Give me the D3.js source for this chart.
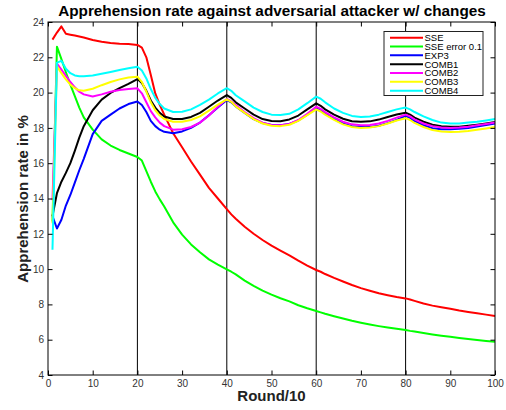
<!DOCTYPE html>
<html><head><meta charset="utf-8">
<script src="https://cdn.jsdelivr.net/npm/d3@7"></script>
<style>
body{margin:0;background:#fff;}
svg{display:block;font-family:"Liberation Sans",Arial,Helvetica,sans-serif;}
</style></head>
<body>
<svg id="chart" width="506" height="410"></svg>
<script>
// ---- data ----
const X = [1,2,3,4,5,6,7,8,10,12,14,16,18,20,
 21,22,23,24,25,26,28,30,32,34,36,38,40,
 41,42,44,46,48,50,52,54,56,58,60,
 61,62,64,66,68,70,72,74,76,78,80,
 81,82,84,86,88,90,92,94,96,98,100];

const sse = [23.0,23.4,23.75,23.33,23.28,23.23,23.18,23.12,22.98,22.88,22.81,22.77,22.75,22.7,
 22.55,22.0,21.0,19.95,19.3,18.75,17.7,16.9,16.1,15.35,14.6,14.0,13.4,
 13.1,12.85,12.4,12.0,11.65,11.33,11.05,10.78,10.48,10.2,9.95,
 9.85,9.72,9.5,9.3,9.1,8.92,8.77,8.63,8.52,8.42,8.34,
 8.28,8.2,8.05,7.93,7.84,7.75,7.65,7.57,7.5,7.42,7.34];

const sseErr = [12.7,22.6,21.9,21.15,20.45,19.8,19.15,18.6,17.9,17.35,17.0,16.75,16.55,16.35,
 16.15,15.55,14.95,14.4,13.95,13.55,12.65,11.95,11.4,10.95,10.55,10.25,9.99,
 9.85,9.7,9.35,9.05,8.78,8.55,8.35,8.17,7.95,7.78,7.63,
 7.55,7.47,7.33,7.2,7.07,6.96,6.86,6.77,6.69,6.62,6.55,
 6.5,6.46,6.38,6.3,6.23,6.17,6.1,6.04,5.98,5.93,5.88];

const exp3 = [13.0,12.3,12.8,13.6,14.2,14.9,15.6,16.25,17.65,18.4,18.75,19.1,19.35,19.5,
 19.3,18.9,18.4,18.1,17.9,17.78,17.7,17.8,18.0,18.3,18.72,19.15,19.58,
 19.45,19.22,18.85,18.5,18.28,18.17,18.15,18.22,18.42,18.75,19.15,
 19.02,18.82,18.5,18.25,18.1,18.05,18.05,18.12,18.27,18.45,18.68,
 18.57,18.4,18.15,17.98,17.92,17.92,17.95,18.0,18.08,18.17,18.25];

const comb1 = [13.0,14.3,14.95,15.45,16.0,16.7,17.45,18.1,19.0,19.6,19.98,20.25,20.5,20.77,
 20.55,20.1,19.55,19.15,18.85,18.65,18.5,18.5,18.62,18.85,19.2,19.55,19.86,
 19.7,19.45,19.1,18.75,18.5,18.39,18.38,18.48,18.7,19.05,19.39,
 19.25,19.05,18.75,18.52,18.38,18.35,18.37,18.47,18.62,18.76,18.86,
 18.75,18.58,18.35,18.18,18.09,18.06,18.07,18.12,18.18,18.25,18.33];

const comb2 = [13.9,21.65,21.3,20.95,20.6,20.3,20.05,19.9,19.78,19.9,20.05,20.15,20.2,20.24,
 19.96,19.45,18.95,18.6,18.3,18.1,17.9,17.92,18.05,18.3,18.7,19.2,19.64,
 19.5,19.3,18.9,18.55,18.3,18.17,18.15,18.22,18.45,18.8,19.2,
 19.08,18.9,18.6,18.35,18.2,18.15,18.17,18.25,18.4,18.58,18.75,
 18.65,18.48,18.25,18.1,18.02,18.0,18.02,18.07,18.15,18.22,18.3];

const comb3 = [12.6,21.5,21.1,20.75,20.45,20.25,20.13,20.1,20.22,20.42,20.6,20.75,20.85,20.9,
 20.6,20.05,19.45,19.0,18.7,18.5,18.35,18.35,18.45,18.65,18.98,19.32,19.62,
 19.48,19.22,18.85,18.5,18.25,18.12,18.1,18.18,18.4,18.72,19.05,
 18.93,18.75,18.45,18.2,18.05,18.0,18.02,18.1,18.25,18.42,18.55,
 18.45,18.28,18.05,17.88,17.8,17.77,17.78,17.83,17.9,17.97,18.05];

const comb4 = [11.1,21.7,21.8,21.35,21.1,20.97,20.93,20.93,20.97,21.07,21.17,21.28,21.38,21.47,
 21.25,20.8,20.2,19.7,19.35,19.1,18.9,18.92,19.05,19.3,19.6,19.95,20.25,
 20.1,19.85,19.5,19.15,18.9,18.75,18.73,18.8,19.05,19.4,19.77,
 19.65,19.45,19.1,18.85,18.68,18.62,18.65,18.75,18.9,19.05,19.15,
 19.05,18.9,18.65,18.45,18.3,18.25,18.25,18.3,18.35,18.42,18.5];

const seriesNames = ["SSE","SSE error 0.1","EXP3","COMB1","COMB2","COMB3","COMB4"];
const seriesColors = ["#ff0000","#00ff00","#0000ff","#000000","#ff00ff","#ffff00","#00ffff"];
const seriesValues = [sse, sseErr, exp3, comb1, comb2, comb3, comb4];
const xTicks = [0,10,20,30,40,50,60,70,80,90,100];
const yTicks = [4,6,8,10,12,14,16,18,20,22,24];
const changePoints = [20,40,60,80];

// ---- layout ----
const svg = d3.select("#chart");
const L = 48, R = 495, T = 22, B = 375;
const x = d3.scaleLinear().domain([0,100]).range([L,R]);
const y = d3.scaleLinear().domain([4,24]).range([B,T]);

// change-point vertical lines
svg.append("g").selectAll("line").data(changePoints).join("line")
  .attr("x1", d=>x(d)).attr("x2", d=>x(d)).attr("y1", T).attr("y2", B)
  .attr("stroke","#000").attr("stroke-width",1);

// series
const line = d3.line().x((d,i)=>x(X[i])).y(d=>y(d)).curve(d3.curveLinear);
svg.append("g").selectAll("path").data(seriesValues).join("path")
  .attr("d", d=>line(d)).attr("fill","none")
  .attr("stroke",(d,i)=>seriesColors[i]).attr("stroke-width",2)
  .attr("stroke-linejoin","round");

// axes
const tk = 4.5;
function styleAxis(g){
  g.select(".domain").remove();
  g.selectAll(".tick line").attr("stroke","#000");
  g.selectAll(".tick text").attr("fill","#333").style("font-size","10px")
   .style("font-family",'"Liberation Sans",Arial,Helvetica,sans-serif');
}
svg.append("g").attr("transform",`translate(0,${B})`)
  .call(d3.axisBottom(x).tickValues(xTicks).tickSizeInner(-tk).tickSizeOuter(0).tickPadding(5))
  .call(styleAxis);
svg.append("g").attr("transform",`translate(0,${T})`)
  .call(d3.axisTop(x).tickValues(xTicks).tickSizeInner(-tk).tickSizeOuter(0).tickFormat(""))
  .call(styleAxis);
svg.append("g").attr("transform",`translate(${L},0)`)
  .call(d3.axisLeft(y).tickValues(yTicks).tickSizeInner(-tk).tickSizeOuter(0).tickPadding(4))
  .call(styleAxis);
svg.append("g").attr("transform",`translate(${R},0)`)
  .call(d3.axisRight(y).tickValues(yTicks).tickSizeInner(-tk).tickSizeOuter(0).tickFormat(""))
  .call(styleAxis);

// frame
svg.append("rect").attr("x",L).attr("y",T).attr("width",R-L).attr("height",B-T)
  .attr("fill","none").attr("stroke","#000").attr("stroke-width",1);

// titles
svg.append("text").attr("x",272).attr("y",15.5).attr("text-anchor","middle")
  .style("font-size","15.3px").style("font-weight","bold").attr("fill","#000")
  .text("Apprehension rate against adversarial attacker w/ changes");
svg.append("text").attr("x",271.5).attr("y",401).attr("text-anchor","middle")
  .style("font-size","15px").style("font-weight","bold").attr("fill","#222")
  .text("Round/10");
svg.append("text").attr("transform","translate(28,199) rotate(-90)").attr("text-anchor","middle")
  .style("font-size","15px").style("font-weight","bold").attr("fill","#222")
  .text("Apprehension rate in %");

// legend
const lg = svg.append("g");
lg.append("rect").attr("x",384).attr("y",31.5).attr("width",99).attr("height",64)
  .attr("fill","#fff").attr("stroke","#222").attr("stroke-width",1);
const rows = lg.selectAll("g.row").data(seriesNames).join("g").attr("class","row")
  .attr("transform",(d,i)=>`translate(0,${37.7+8.83*i})`);
rows.append("line").attr("x1",390).attr("x2",423).attr("y1",0).attr("y2",0)
  .attr("stroke",(d,i)=>seriesColors[i]).attr("stroke-width",2);
rows.append("text").attr("x",424.5).attr("y",3.4).style("font-size","9.5px").attr("fill","#000")
  .text(d=>d);
</script>
</body></html>
